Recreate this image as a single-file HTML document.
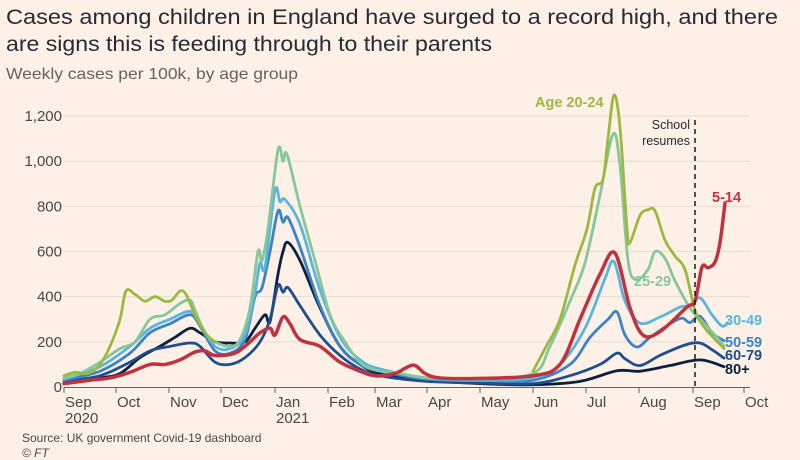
<!DOCTYPE html>
<html><head><meta charset="utf-8"><style>
body{margin:0;background:#fdf1e7;}
svg{display:block;font-family:"Liberation Sans",sans-serif;}
</style></head><body>
<svg id="c" width="800" height="460" viewBox="0 0 800 460">
<rect width="800" height="460" fill="#fdf1e7"/>
<text x="6" y="24" font-size="21.5" fill="#262a33" textLength="772" lengthAdjust="spacingAndGlyphs">Cases among children in England have surged to a record high, and there</text>
<text x="6" y="51" font-size="21.5" fill="#262a33" textLength="486" lengthAdjust="spacingAndGlyphs">are signs this is feeding through to their parents</text>
<text x="6" y="79" font-size="16" fill="#66605c" textLength="292" lengthAdjust="spacingAndGlyphs">Weekly cases per 100k, by age group</text>
<g id="grid" stroke="#e6dbd1" stroke-width="1"></g>
<g id="yl" font-size="15" fill="#4a4642" text-anchor="end"></g>
<line x1="64" y1="387.5" x2="750" y2="387.5" stroke="#66605c" stroke-width="1"/>
<g id="xt" stroke="#66605c"></g>
<g id="xl" font-size="15" fill="#4a4642"></g>
<g id="lines" fill="none" stroke-linejoin="round" stroke-linecap="round"></g>
<line x1="695" y1="120" x2="695" y2="387" stroke="#1a1a1a" stroke-width="1.5" stroke-dasharray="5,4"/>
<text x="690" y="129" font-size="12.5" fill="#262a33" text-anchor="end">School</text>
<text x="690" y="145" font-size="12.5" fill="#262a33" text-anchor="end">resumes</text>
<g font-size="14.5" font-weight="bold">
<text x="535" y="107" fill="#9cb83f">Age 20-24</text>
<text x="634" y="286" fill="#86c79a">25-29</text>
<text x="712" y="202" fill="#c0323f">5-14</text>
<text x="725" y="325" fill="#5ab4dc">30-49</text>
<text x="725" y="347" fill="#3b83c4">50-59</text>
<text x="725" y="360" fill="#1f4e8c">60-79</text>
<text x="725" y="374" fill="#0d1f3f">80+</text>
</g>
<text x="22" y="442" font-size="12" fill="#4a4642">Source: UK government Covid-19 dashboard</text>
<text x="22" y="457" font-size="12" fill="#4a4642" font-style="italic">© FT</text>
</svg>
<script>
const NS="http://www.w3.org/2000/svg";
function el(p,t,a,txt){const e=document.createElementNS(NS,t);for(const k in a)e.setAttribute(k,a[k]);if(txt)e.textContent=txt;document.getElementById(p).appendChild(e);}
const Y=v=>387-v*0.2258;
for(let v=200;v<=1200;v+=200){el("grid","line",{x1:64,x2:750,y1:Y(v),y2:Y(v)});}
[0,200,400,600,800,1000,1200].forEach(v=>el("yl","text",{x:62,y:Y(v)+5},v.toLocaleString("en-US")));
const mx=[64,116,169,221,275,328,375,427,480,533,586,639,693,744];
const ml=["Sep","Oct","Nov","Dec","Jan","Feb","Mar","Apr","May","Jun","Jul","Aug","Sep","Oct"];
mx.forEach((x,i)=>{el("xt","line",{x1:x,x2:x,y1:387,y2:393});el("xl","text",{x:x+1,y:407},ml[i]);});
el("xl","text",{x:65,y:423},"2020");el("xl","text",{x:276,y:423},"2021");
function path(pts){const P=pts.map(p=>[p[0],Y(p[1])]);let d="M"+P[0][0]+","+P[0][1];
for(let i=0;i<P.length-1;i++){const p0=P[i-1]||P[i],p1=P[i],p2=P[i+1],p3=P[i+2]||p2;
d+=` C${p1[0]+(p2[0]-p0[0])/6},${p1[1]+(p2[1]-p0[1])/6} ${p2[0]-(p3[0]-p1[0])/6},${p2[1]-(p3[1]-p1[1])/6} ${p2[0]},${p2[1]}`;}return d;}
const S=[
["#0d1f3f",[[64,15],[100,40],[120,60],[140,130],[160,180],[175,220],[190,260],[200,240],[215,200],[230,195],[245,200],[255,260],[265,320],[270,290],[278,500],[283,600],[288,640],[300,560],[320,350],[340,180],[360,100],[380,60],[427,30],[480,15],[533,10],[580,25],[617,72],[640,70],[670,95],[700,120],[724,90]]],
["#1f4e8c",[[64,25],[100,50],[130,110],[150,160],[170,180],[190,195],[200,180],[215,110],[230,100],[245,130],[260,200],[270,300],[278,450],[283,420],[288,440],[300,360],[320,230],[340,140],[360,80],[380,50],[427,25],[480,18],[533,15],[570,50],[600,100],[617,150],[625,125],[640,95],[660,140],[685,186],[700,195],[712,165],[724,128]]],
["#3b83c4",[[64,30],[100,70],[130,150],[150,240],[170,280],[190,320],[200,270],[215,160],[230,150],[245,210],[255,400],[262,440],[270,600],[278,780],[283,730],[288,750],[300,620],[320,360],[340,180],[360,100],[380,70],[427,35],[480,28],[533,30],[570,100],[590,220],[608,300],[617,332],[625,230],[637,177],[650,220],[670,280],[682,305],[690,285],[700,313],[712,240],[724,205]]],
["#5ab4dc",[[64,35],[100,90],[130,180],[150,260],[170,300],[190,335],[200,280],[215,180],[230,170],[245,230],[255,420],[260,550],[265,530],[275,870],[280,820],[285,830],[300,720],[320,430],[340,220],[360,120],[380,80],[427,40],[480,30],[533,40],[560,100],[585,260],[605,480],[614,555],[625,380],[640,283],[660,310],[680,354],[690,360],[700,395],[712,320],[722,270],[728,285]]],
["#86c79a",[[64,40],[80,60],[100,110],[120,170],[135,200],[150,300],[165,320],[180,370],[190,385],[195,340],[205,240],[215,200],[230,180],[240,210],[250,350],[258,600],[262,560],[268,700],[278,1050],[283,1000],[287,1030],[300,800],[315,560],[330,320],[345,200],[360,110],[375,75],[400,60],[427,40],[480,35],[533,60],[550,180],[570,380],[585,550],[600,850],[613,1120],[620,980],[628,560],[636,475],[648,520],[655,600],[665,570],[675,470],[690,350],[700,300],[715,230],[724,180]]],
["#9cb83f",[[64,50],[75,65],[88,60],[100,100],[110,180],[120,300],[126,425],[135,410],[145,380],[155,400],[165,380],[172,385],[180,425],[186,410],[195,320],[205,240],[215,200]]],
["#9cb83f",[[533,70],[545,170],[560,300],[575,540],[587,700],[595,880],[603,920],[608,1100],[614,1293],[620,1150],[627,700],[630,640],[640,760],[648,785],[655,780],[665,650],[675,580],[685,520],[695,340],[705,260],[724,170]]],
["#c0323f",[[64,15],[90,30],[110,40],[130,65],[150,100],[165,100],[180,120],[195,155],[205,160],[215,140],[235,150],[250,200],[260,240],[270,260],[275,230],[283,310],[290,280],[300,210],[320,180],[340,110],[360,70],[375,50],[395,60],[413,97],[425,60],[440,40],[480,38],[533,50],[560,100],[580,300],[600,500],[615,593],[630,350],[643,230],[660,245],[687,354],[695,380],[702,531],[708,528],[715,553],[720,640],[725,815]]]
];
S.forEach(s=>el("lines","path",{d:path(s[1]),stroke:s[0],"stroke-width":s[0]=="#c0323f"?3.5:2.8}));
</script>
</body></html>
